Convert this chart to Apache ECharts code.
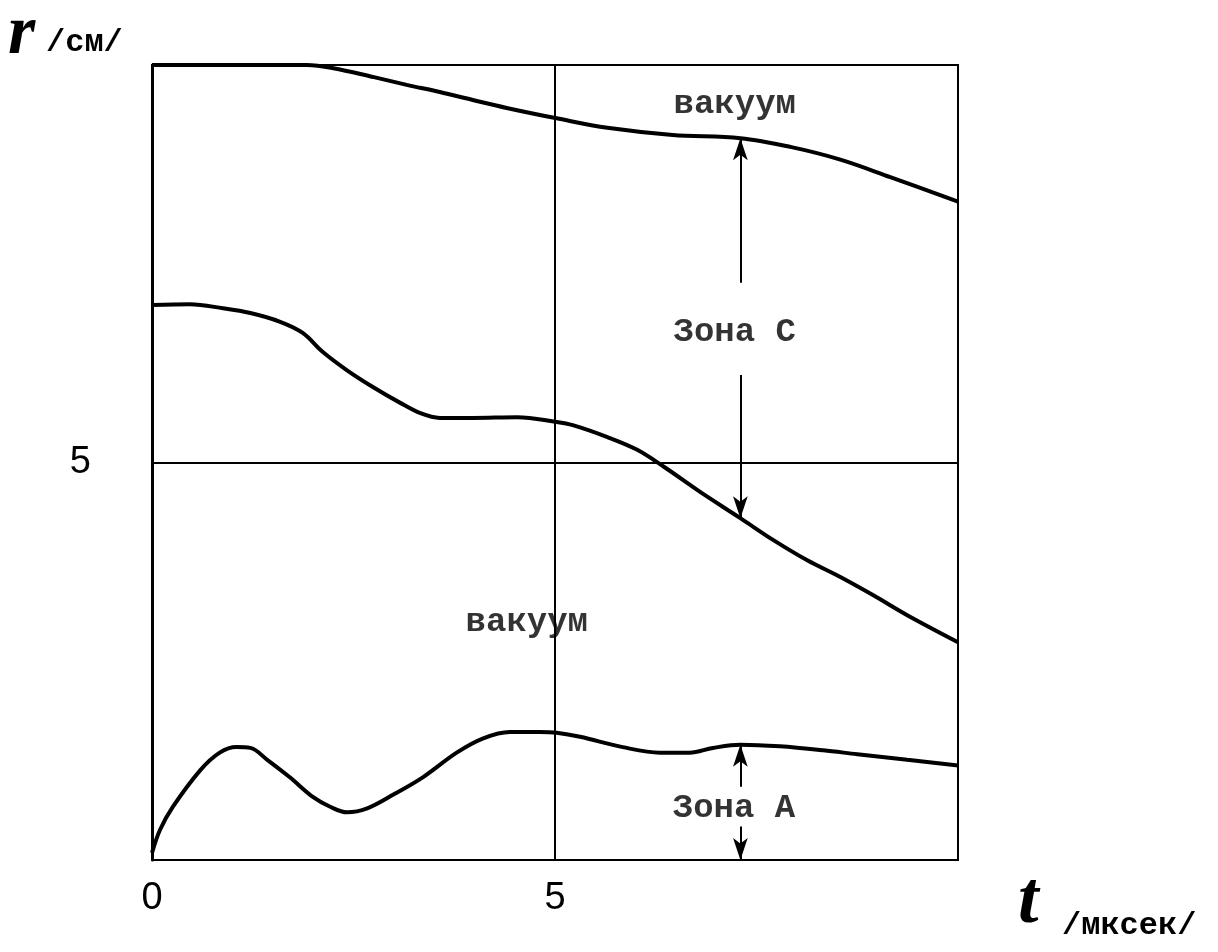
<!DOCTYPE html>
<html>
<head>
<meta charset="utf-8">
<script src="https://cdn.jsdelivr.net/npm/echarts@6/dist/echarts.min.js"></script>
<style>
  html, body { margin: 0; padding: 0; background: #fff; }
</style>
</head>
<body>
<div id="main" style="width: 1218px;height:952px;"></div>

<script type="text/javascript">
    // верхняя граница (вакуум / зона C)
    var tUpper = [0, 1.92, 2.25, 2.74, 3.16, 3.57, 3.98, 4.40, 5.02, 5.65, 6.46, 7.30, 7.92, 8.54, 9.16, 10];
    var rUpper = [10, 10, 9.96, 9.85, 9.75, 9.66, 9.56, 9.46, 9.33, 9.21, 9.12, 9.08, 8.97, 8.81, 8.59, 8.28];

    // средняя кривая
    var tMiddle = [0, 0.47, 0.88, 1.22, 1.59, 1.87, 2.12, 2.42, 2.74, 3.08, 3.33, 3.57, 3.98, 4.53, 5.02,
                   5.22, 5.65, 6.02, 6.36, 6.80, 7.30, 7.70, 8.13, 8.54, 8.95, 9.37, 10];
    var rMiddle = [6.98, 6.99, 6.94, 6.88, 6.77, 6.63, 6.39, 6.16, 5.95, 5.75, 5.62, 5.56, 5.56, 5.57, 5.51,
                   5.47, 5.32, 5.16, 4.94, 4.63, 4.30, 4.03, 3.77, 3.56, 3.33, 3.08, 2.74];

    // нижняя кривая (зона A)
    var tLower = [0, 0.10, 0.26, 0.60, 0.84, 1.05, 1.22, 1.43, 1.71, 2.0, 2.21, 2.42, 2.67, 2.99, 3.36, 3.78,
                  4.11, 4.44, 4.81, 5.02, 5.31, 5.84, 6.30, 6.67, 6.96, 7.30, 7.79, 8.33, 8.75, 9.37, 10];
    var rLower = [0.09, 0.38, 0.67, 1.13, 1.35, 1.42, 1.41, 1.26, 1.04, 0.79, 0.67, 0.60, 0.65, 0.82, 1.04, 1.35,
                  1.53, 1.61, 1.61, 1.60, 1.55, 1.42, 1.35, 1.35, 1.41, 1.45, 1.43, 1.38, 1.33, 1.26, 1.19];

    // подписи осей
    var xTickLabels = [0, 5];
    var yTickLabels = [5];

    // надписи на поле графика: [t, r, текст]
    var notes = [
        [7.23, 9.50, 'вакуум'],
        [7.23, 6.63, 'Зона С'],
        [4.65, 2.99, 'вакуум'],
        [7.22, 0.65, 'Зона А']
    ];

    // стрелки: [t, r начала, r конца (остриё)]
    var arrows = [
        [7.30, 7.26, 9.08],
        [7.30, 6.10, 4.30],
        [7.30, 0.92, 1.45],
        [7.30, 0.42, 0.0]
    ];

    function zip(ts, rs) {
        var out = [];
        for (var i = 0; i < ts.length; i++) out.push([ts[i], rs[i]]);
        return out;
    }

    var myChart = echarts.init(document.getElementById('main'));

    var curveStyle = { color: '#000', width: 4 };

    var option = {
        backgroundColor: '#fff',
        animation: false,
        grid: {
            left: 152, right: 260, top: 65, bottom: 92,
            show: true, borderColor: '#000', borderWidth: 2
        },
        xAxis: {
            type: 'value', min: 0, max: 10, interval: 5,
            axisLine: { show: true, onZero: false, lineStyle: { color: '#000', width: 2 } },
            axisTick: { show: false },
            splitLine: { show: true, lineStyle: { color: '#000', width: 2 } },
            axisLabel: {
                margin: 20,
                fontFamily: 'Liberation Sans', fontSize: 38, color: '#000',
                formatter: function (v) { return xTickLabels.indexOf(v) >= 0 ? String(v) : ''; }
            }
        },
        yAxis: {
            type: 'value', min: 0, max: 10, interval: 5,
            axisLine: { show: true, onZero: false, lineStyle: { color: '#000', width: 3 } },
            axisTick: { show: false },
            splitLine: { show: true, lineStyle: { color: '#000', width: 2 } },
            axisLabel: {
                margin: 61,
                fontFamily: 'Liberation Sans', fontSize: 38, color: '#000',
                formatter: function (v) { return yTickLabels.indexOf(v) >= 0 ? String(v) : ''; }
            }
        },
        graphic: [
            { type: 'text', left: 8, top: 0,
              style: { text: 'r', font: 'italic bold 70px "Liberation Serif"', fill: '#000' } },
            { type: 'text', left: 46, top: 27,
              style: { text: '/см/', font: 'bold 32px "Liberation Mono"', fill: '#000' } },
            { type: 'text', left: 1018, top: 866,
              style: { text: 't', font: 'italic bold 74px "Liberation Serif"', fill: '#000' } },
            { type: 'text', left: 1062, top: 910,
              style: { text: '/мксек/', font: 'bold 32px "Liberation Mono"', fill: '#000' } }
        ],
        series: [
            { type: 'line', data: zip(tUpper, rUpper), smooth: 0.35, symbol: 'none', lineStyle: curveStyle, z: 5 },
            { type: 'line', data: zip(tMiddle, rMiddle), smooth: 0.35, symbol: 'none', lineStyle: curveStyle, z: 5 },
            {
                type: 'line', data: zip(tLower, rLower), smooth: 0.35, symbol: 'none', lineStyle: curveStyle, z: 5,
                markLine: {
                    silent: true,
                    symbol: ['none', 'arrow'],
                    symbolSize: [11, 22],
                    label: { show: false },
                    lineStyle: { color: '#000', width: 2, type: 'solid' },
                    data: arrows.map(function (a) {
                        return [{ coord: [a[0], a[1]] }, { coord: [a[0], a[2]] }];
                    })
                }
            },
            {
                type: 'scatter', data: notes, symbolSize: 0, z: 6,
                label: {
                    show: true, position: 'inside',
                    formatter: function (p) { return p.value[2]; },
                    fontFamily: 'Liberation Mono', fontWeight: 'bold', fontSize: 34, color: '#000'
                }
            }
        ]
    };

    myChart.setOption(option);
</script>
</body>
</html>
